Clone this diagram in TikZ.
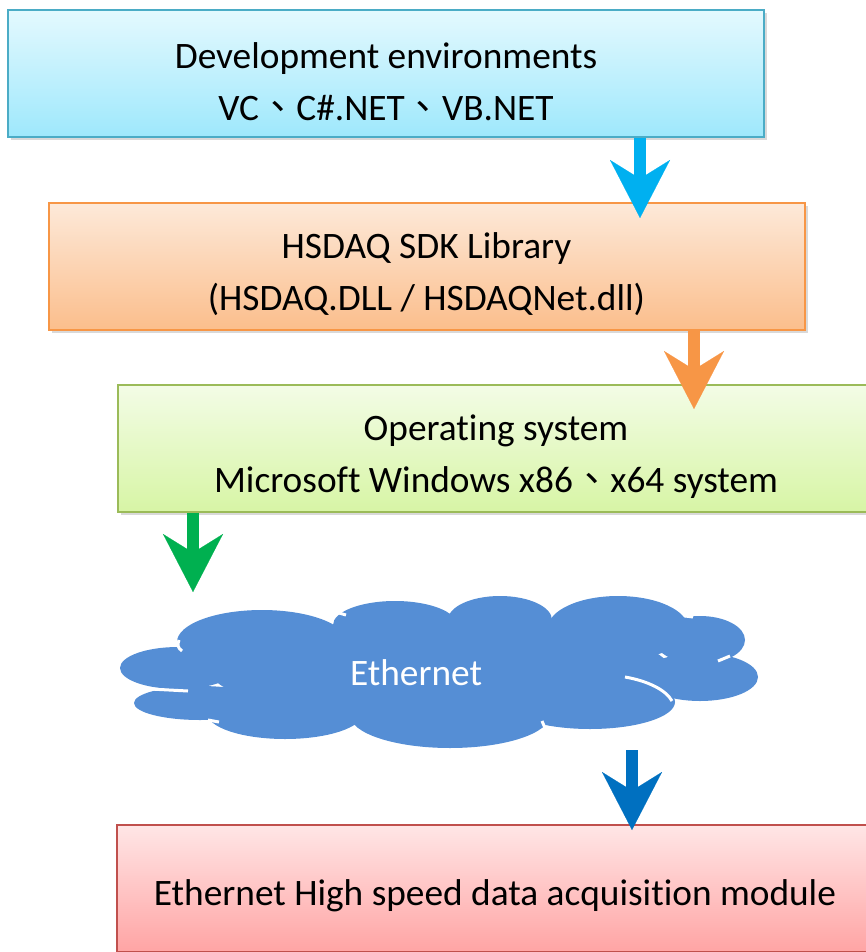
\documentclass[tikz,border=0pt]{standalone}
\usepackage{fontspec}
\setmainfont{Carlito}[Ligatures=NoCommon]
\newfontfamily\cjk{Noto Sans CJK TC}
\usetikzlibrary{arrows.meta,shadows}

\definecolor{devtop}{RGB}{228,249,254}
\definecolor{devbot}{RGB}{158,232,252}
\definecolor{devline}{RGB}{75,172,198}
\definecolor{libtop}{RGB}{253,233,217}
\definecolor{libbot}{RGB}{251,190,140}
\definecolor{libline}{RGB}{247,150,70}
\definecolor{ostop}{RGB}{243,252,230}
\definecolor{osbot}{RGB}{215,245,165}
\definecolor{osline}{RGB}{155,187,89}
\definecolor{modtop}{RGB}{255,230,230}
\definecolor{modbot}{RGB}{255,164,164}
\definecolor{modline}{RGB}{192,80,77}
\definecolor{cloudfill}{RGB}{85,142,213}
\definecolor{arrowcyan}{RGB}{0,176,240}
\definecolor{arrowgreen}{RGB}{0,176,80}
\definecolor{arrowblue}{RGB}{0,112,192}

% invisible strut, pushes the text of a box a bit down
\newcommand\boxstrut{\rule{0pt}{31pt}}

\tikzset{every picture/.style={line width=0.75pt}}
\tikzset{
  layerbox/.style={rectangle, minimum width=567pt, minimum height=95.25pt, line width=1.5pt,
    align=center, inner sep=0pt, font=\fontsize{28}{39}\selectfont,
    drop shadow={opacity=0.3, shadow xshift=2.5pt, shadow yshift=-2.5pt}},
  fatarrow/.style={line width=9pt, -{Stealth[length=43.5pt, width=45pt, inset=14pt, line width=0.1pt]}},
  lobe/.style={fill=cloudfill, draw=none},
  notch/.style={draw=white, line width=2.25pt},
}

\begin{document}
\begin{tikzpicture}[x=0.75pt,y=0.75pt,yscale=-1,xscale=1]
\useasboundingbox (0,0) rectangle (865,952);

% Layer boxes
\node[layerbox, draw=devline, top color=devtop, bottom color=devbot] (dev) at (386,73.5)
  {\boxstrut Development environments\\VC{\cjk 、}C\#.NET{\cjk 、}VB.NET};
\node[layerbox, draw=libline, top color=libtop, bottom color=libbot] (lib) at (426.5,266.5)
  {\boxstrut HSDAQ SDK Library\\(HSDAQ.DLL / HSDAQNet.dll)};
\node[layerbox, draw=osline, top color=ostop, bottom color=osbot] (os) at (496,448.5)
  {\boxstrut Operating system\\Microsoft Windows x86{\cjk 、}x64 system};
\node[layerbox, draw=modline, top color=modtop, bottom color=modbot] (mod) at (495,888.5)
  {\boxstrut Ethernet High speed data acquisition module};

%Shape: Cloud
\path[lobe] (178,668) ellipse [x radius=58, y radius=21];
\path[lobe] (200,703) ellipse [x radius=66, y radius=17];
\path[lobe] (262,642) ellipse [x radius=85, y radius=32];
\path[lobe] (285,713) ellipse [x radius=78, y radius=26];
\path[lobe] (395,625) ellipse [x radius=62, y radius=24];
\path[lobe] (500,620) ellipse [x radius=52, y radius=24];
\path[lobe] (618,628) ellipse [x radius=70, y radius=32];
\path[lobe] (700,640) ellipse [x radius=45, y radius=24];
\path[lobe] (700,677) ellipse [x radius=58, y radius=24];
\path[lobe] (590,702) ellipse [x radius=85, y radius=27];
\path[lobe] (450,715) ellipse [x radius=100, y radius=33];
\path[lobe] (440,670) ellipse [x radius=230, y radius=50];
% notches between the lobes
\draw[notch] (625,677) .. controls (648,681) and (666,690) .. (672,701);
\draw[notch] (150,689) -- (188,691);
\draw[notch] (179,640) .. controls (177,645) and (178,648) .. (182,651);
\draw[notch] (332,611) -- (346,615);
\draw[notch] (548,604) -- (557,600);
\draw[notch] (685,616) -- (693,617);
\draw[notch] (718,661) -- (730,656);
\draw[notch] (351,730) -- (358,735);
\draw[notch] (542,721) -- (545,728);
\draw[notch] (208,720) -- (219,722);

% Text Node
\node[text=white, font=\fontsize{28}{39}\selectfont, inner sep=0pt] (net) at (416,673) {Ethernet};

% Arrows
\coordinate (tipA) at (640,218);
\coordinate (tipB) at (694,409);
\coordinate (tipC) at (193,592);
\coordinate (netout) at (632,750);
\coordinate (tipD) at (632,830);
\draw[fatarrow, arrowcyan] (dev.south -| tipA) -- (tipA);
\draw[fatarrow, libline] (lib.south -| tipB) -- (tipB);
\draw[fatarrow, arrowgreen] (os.south -| tipC) -- (tipC);
\draw[fatarrow, arrowblue] (netout) -- (tipD);

\end{tikzpicture}
\end{document}
